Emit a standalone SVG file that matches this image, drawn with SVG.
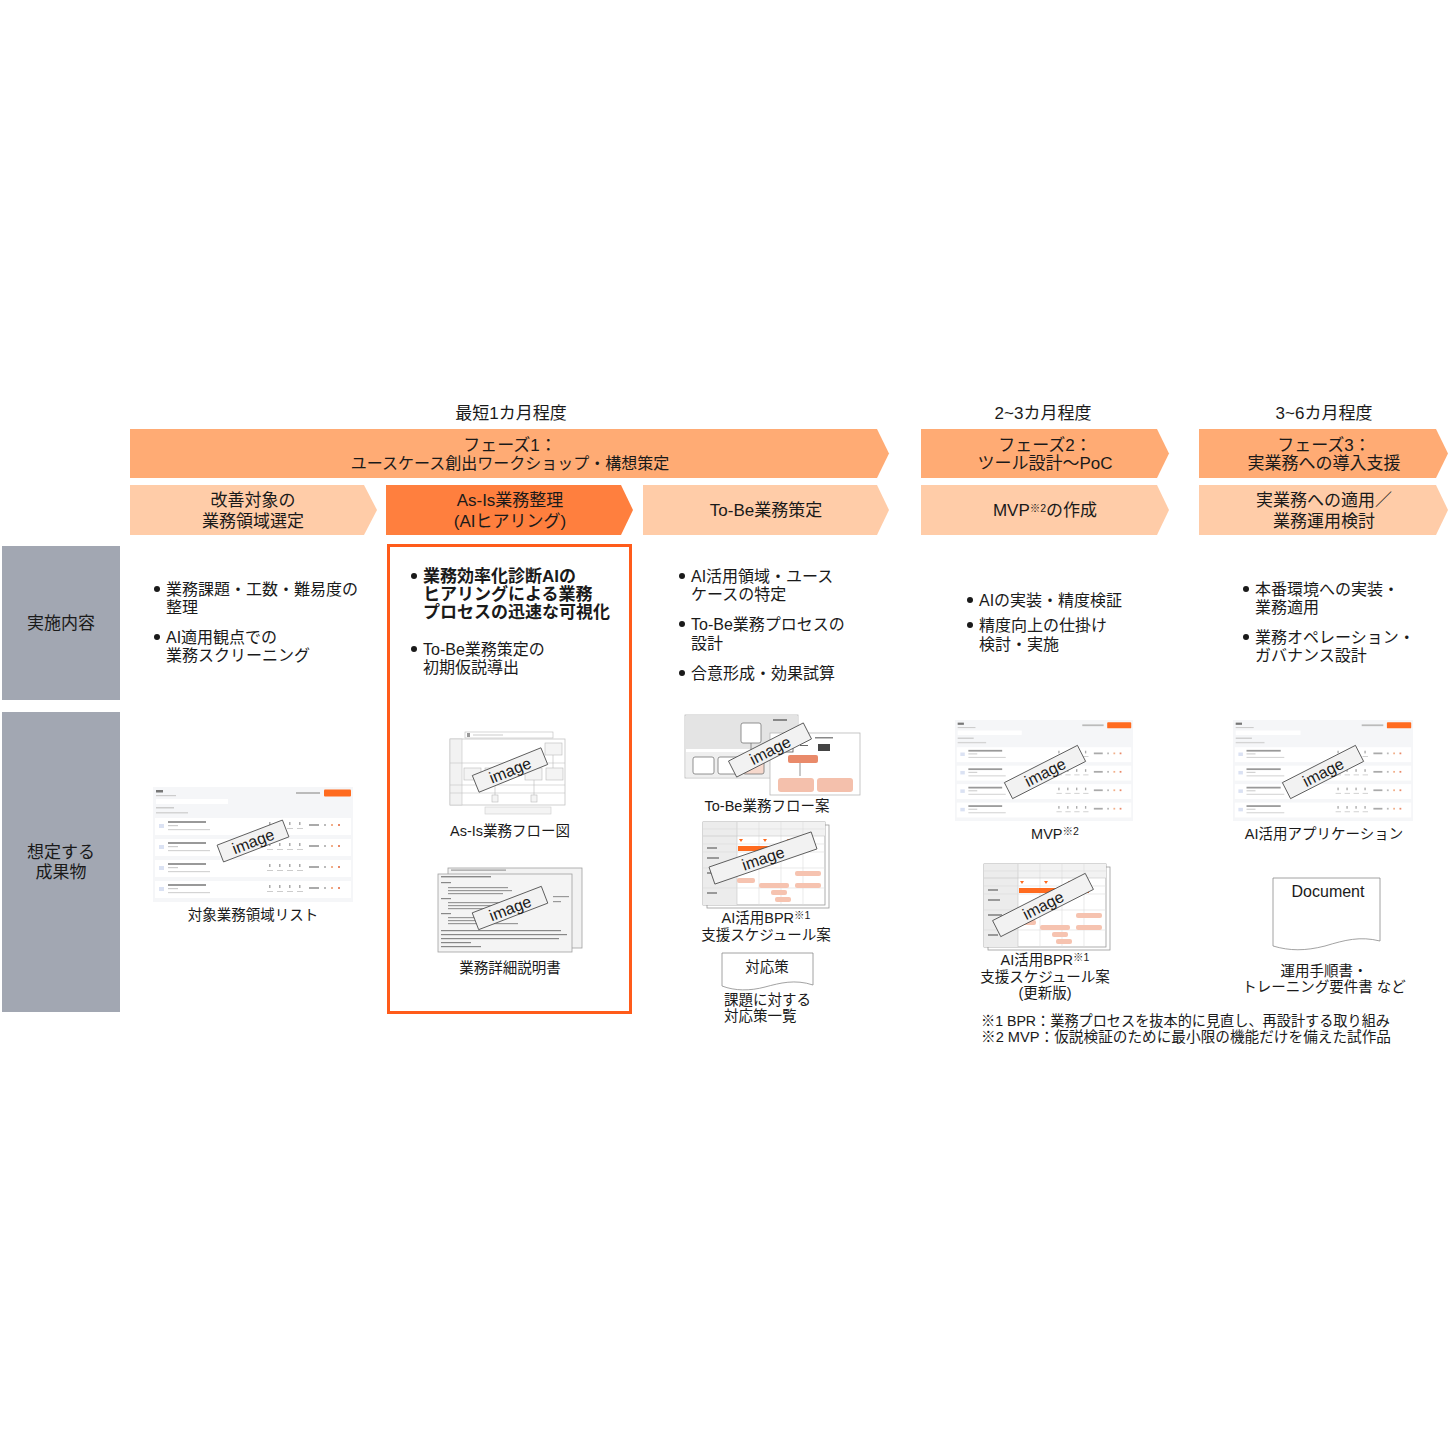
<svg xmlns="http://www.w3.org/2000/svg" xmlns:xlink="http://www.w3.org/1999/xlink" width="1448" height="1448" viewBox="0 0 1448 1448">
<style>
text{font-family:"Liberation Sans","Noto Sans CJK JP",sans-serif;font-size:16px;fill:#1a1a1a}
.c{text-anchor:middle}
.h{font-size:17px}
.b{font-weight:bold;font-size:17px}
.cap{font-size:14.5px}
.sm{font-size:10.5px}
.phase{fill:#FFAB74}
.sub{fill:#FFCCA8}
.act{fill:#FF7F3E}
.lab{fill:#A2A7B2}
.tag rect{fill:#f2f2f2;stroke:#4a4a4a;stroke-width:0.8}
.tag text{font-size:16px;text-anchor:middle}
.pg{fill:#fff;stroke:#9a9a9a;stroke-width:0.8}
.dot{fill:#1a1a1a}
</style>
<defs>
<symbol id="appshot" viewBox="0 0 200 115" preserveAspectRatio="none">
<rect x="0" y="0" width="200" height="115" fill="#f5f6f8"/>
<rect x="3" y="3" width="7" height="2.5" fill="#777"/>
<rect x="3" y="8" width="20" height="1.2" fill="#ccc"/>
<rect x="143" y="5" width="24" height="2" fill="#bbb"/>
<rect x="171" y="2.5" width="27" height="7" rx="1" fill="#FF6B1F"/>
<rect x="3" y="12" width="72" height="5" fill="#fff"/>
<rect x="3" y="20" width="18" height="1.5" fill="#ccc"/>
<rect x="3" y="25" width="32" height="1.5" fill="#d4d4d4"/>
<g id="row">
<rect x="2" y="31" width="196" height="17" fill="#fff"/>
<rect x="6" y="37" width="5" height="4" fill="#dbe2f3"/>
<rect x="15" y="34" width="38" height="2" fill="#999"/>
<rect x="15" y="38" width="10" height="1.2" fill="#ccc"/>
<rect x="15" y="42" width="42" height="1.2" fill="#d4d4d4"/>
<rect x="116" y="35" width="1.5" height="3" fill="#aaa"/><rect x="126" y="35" width="1.5" height="3" fill="#aaa"/><rect x="136" y="35" width="1.5" height="3" fill="#aaa"/><rect x="146" y="35" width="1.5" height="3" fill="#aaa"/>
<rect x="114" y="41" width="6" height="1" fill="#ccc"/><rect x="124" y="41" width="6" height="1" fill="#ccc"/><rect x="134" y="41" width="6" height="1" fill="#ccc"/><rect x="144" y="41" width="6" height="1" fill="#ccc"/>
<rect x="156" y="37" width="10" height="2" fill="#aaa"/><rect x="171" y="37" width="2" height="2" fill="#bbb"/><rect x="178" y="37" width="2" height="2" fill="#f2b08a"/><rect x="185" y="37" width="2" height="2" fill="#e98a6a"/>
</g>
<use href="#row" y="21"/>
<use href="#row" y="42"/>
<use href="#row" y="63"/>
</symbol>
<g id="sched">
<rect x="4" y="3" width="122" height="83" class="pg"/>
<rect x="0" y="0" width="122" height="83" class="pg"/>
<rect x="0" y="0" width="34" height="83" fill="#ececec"/>
<rect x="34" y="0" width="88" height="14" fill="#f2f2f2"/>
<line x1="34" y1="0" x2="34" y2="83" stroke="#c8c8c8" stroke-width="0.6"/>
<line x1="56" y1="0" x2="56" y2="83" stroke="#dcdcdc" stroke-width="0.6"/>
<line x1="78" y1="0" x2="78" y2="83" stroke="#dcdcdc" stroke-width="0.6"/>
<line x1="100" y1="0" x2="100" y2="83" stroke="#dcdcdc" stroke-width="0.6"/>
<line x1="0" y1="7" x2="122" y2="7" stroke="#dcdcdc" stroke-width="0.6"/>
<line x1="0" y1="14" x2="122" y2="14" stroke="#c8c8c8" stroke-width="0.6"/>
<line x1="0" y1="22" x2="122" y2="22" stroke="#dcdcdc" stroke-width="0.6"/>
<line x1="0" y1="30" x2="122" y2="30" stroke="#dcdcdc" stroke-width="0.6"/>
<line x1="0" y1="46" x2="122" y2="46" stroke="#dcdcdc" stroke-width="0.6"/>
<line x1="0" y1="66" x2="122" y2="66" stroke="#dcdcdc" stroke-width="0.6"/>
<rect x="35" y="24" width="70" height="5" fill="#FF6B1F"/>
<path d="M36 17 l2 3 l2 -3 z M60 17 l2 3 l2 -3 z M84 17 l2 3 l2 -3 z" fill="#FF6B1F"/>
<rect x="92" y="49" width="26" height="5" rx="2" fill="#F6C3B0"/>
<rect x="34" y="56" width="18" height="5" rx="2" fill="#F6C3B0"/>
<rect x="56" y="61" width="30" height="5" rx="2" fill="#F6C3B0"/>
<rect x="92" y="61" width="26" height="5" rx="2" fill="#F6C3B0"/>
<rect x="68" y="68" width="16" height="5" rx="2" fill="#F6C3B0"/>
<rect x="72" y="75" width="16" height="5" rx="2" fill="#F6C3B0"/>
<rect x="4" y="25" width="10" height="2" fill="#999"/>
<rect x="4" y="35" width="12" height="2" fill="#999"/>
<rect x="4" y="50" width="14" height="2" fill="#999"/>
<rect x="4" y="70" width="10" height="2" fill="#999"/>
</g>
</defs>

<g id="timeline-labels">
<text class="c h" x="511" y="419">最短1カ月程度</text>
<text class="c h" x="1043" y="419">2~3カ月程度</text>
<text class="c h" x="1324" y="419">3~6カ月程度</text>
</g>

<g id="phase1">
<path class="phase" d="M130 429 H877 L889 453.5 L877 478 H130 Z"/>
<text class="c h" x="510" y="451">フェーズ1：</text>
<text class="c" x="510" y="469">ユースケース創出ワークショップ・構想策定</text>
</g>
<g id="phase2">
<path class="phase" d="M921 429 H1157 L1169 453.5 L1157 478 H921 Z"/>
<text class="c h" x="1045" y="451">フェーズ2：</text>
<text class="c h" x="1045" y="469">ツール設計～PoC</text>
</g>
<g id="phase3">
<path class="phase" d="M1199 429 H1436 L1448 453.5 L1436 478 H1199 Z"/>
<text class="c h" x="1324" y="451">フェーズ3：</text>
<text class="c h" x="1324" y="469">実業務への導入支援</text>
</g>

<g id="step-select">
<path class="sub" d="M130 485 H364 L377 510 L364 535 H130 Z"/>
<text class="c h" x="253" y="506">改善対象の</text>
<text class="c h" x="253" y="527">業務領域選定</text>
</g>
<g id="step-asis">
<path class="act" d="M386 485 H621 L633 510 L621 535 H386 Z"/>
<text class="c h" x="510" y="506">As-Is業務整理</text>
<text class="c h" x="510" y="527">(AIヒアリング)</text>
</g>
<g id="step-tobe">
<path class="sub" d="M643 485 H877 L889 510 L877 535 H643 Z"/>
<text class="c h" x="766" y="516">To-Be業務策定</text>
</g>
<g id="step-mvp">
<path class="sub" d="M921 485 H1157 L1169 510 L1157 535 H921 Z"/>
<text class="c h" x="1045" y="516">MVP<tspan class="sm" dy="-4">※2</tspan><tspan dy="4">の作成</tspan></text>
</g>
<g id="step-apply">
<path class="sub" d="M1199 485 H1436 L1448 510 L1436 535 H1199 Z"/>
<text class="c h" x="1324" y="506">実業務への適用／</text>
<text class="c h" x="1324" y="527">業務運用検討</text>
</g>

<g id="row-labels">
<rect class="lab" x="2" y="546" width="118" height="154"/>
<text class="c h" x="61" y="629">実施内容</text>
<rect class="lab" x="2" y="712" width="118" height="300"/>
<text class="c h" x="61" y="858">想定する</text>
<text class="c h" x="61" y="878">成果物</text>
</g>

<g id="highlight">
<rect x="388.5" y="545.5" width="242" height="467" fill="none" stroke="#FF5B1A" stroke-width="3"/>
</g>

<g id="tasks-1">
<circle class="dot" cx="157" cy="589" r="3"/>
<text x="166" y="595">業務課題・工数・難易度の</text>
<text x="166" y="613">整理</text>
<circle class="dot" cx="157" cy="637" r="3"/>
<text x="166" y="643">AI適用観点での</text>
<text x="166" y="661">業務スクリーニング</text>
</g>
<g id="tasks-2">
<circle class="dot" cx="414" cy="576" r="3"/>
<text class="b" x="423" y="582">業務効率化診断AIの</text>
<text class="b" x="423" y="600">ヒアリングによる業務</text>
<text class="b" x="423" y="618">プロセスの迅速な可視化</text>
<circle class="dot" cx="414" cy="649" r="3"/>
<text x="423" y="655">To-Be業務策定の</text>
<text x="423" y="673">初期仮説導出</text>
</g>
<g id="tasks-3">
<circle class="dot" cx="682" cy="576" r="3"/>
<text x="691" y="582">AI活用領域・ユース</text>
<text x="691" y="600">ケースの特定</text>
<circle class="dot" cx="682" cy="624" r="3"/>
<text x="691" y="630">To-Be業務プロセスの</text>
<text x="691" y="649">設計</text>
<circle class="dot" cx="682" cy="673" r="3"/>
<text x="691" y="679">合意形成・効果試算</text>
</g>
<g id="tasks-4">
<circle class="dot" cx="970" cy="600" r="3"/>
<text x="979" y="606">AIの実装・精度検証</text>
<circle class="dot" cx="970" cy="625" r="3"/>
<text x="979" y="631">精度向上の仕掛け</text>
<text x="979" y="650">検討・実施</text>
</g>
<g id="tasks-5">
<circle class="dot" cx="1246" cy="589" r="3"/>
<text x="1255" y="595">本番環境への実装・</text>
<text x="1255" y="613">業務適用</text>
<circle class="dot" cx="1246" cy="637" r="3"/>
<text x="1255" y="643">業務オペレーション・</text>
<text x="1255" y="661">ガバナンス設計</text>
</g>

<g id="out-target-list">
<use href="#appshot" x="153" y="787" width="200" height="115"/>
<g class="tag" transform="translate(253 841) rotate(-21)"><rect x="-35" y="-9" width="70" height="18"/><text x="0" y="6">image</text></g>
<text class="c cap" x="253" y="920">対象業務領域リスト</text>
</g>

<g id="out-asis-flow">
<rect x="465" y="732" width="88" height="6" fill="#fff" stroke="#bbb" stroke-width="0.6"/>
<rect x="467" y="733" width="3" height="4" fill="#999"/>
<rect x="473" y="734.5" width="30" height="1" fill="#ccc"/>
<rect x="450" y="739" width="115" height="66" fill="#fff" stroke="#c4c4c4" stroke-width="0.8"/>
<rect x="450" y="739" width="12" height="66" fill="#f2f2f2" stroke="#c4c4c4" stroke-width="0.6"/>
<line x1="450" y1="763" x2="565" y2="763" stroke="#c4c4c4" stroke-width="0.6"/>
<line x1="450" y1="785" x2="565" y2="785" stroke="#c4c4c4" stroke-width="0.6"/>
<line x1="450" y1="793" x2="565" y2="793" stroke="#c4c4c4" stroke-width="0.6"/>
<rect x="545" y="743" width="17" height="12" fill="#f4f4f4" stroke="#bbb" stroke-width="0.6"/>
<rect x="464" y="768" width="17" height="12" fill="#f4f4f4" stroke="#bbb" stroke-width="0.6"/>
<rect x="485" y="768" width="17" height="12" fill="#f4f4f4" stroke="#bbb" stroke-width="0.6"/>
<rect x="525" y="768" width="17" height="12" fill="#f4f4f4" stroke="#bbb" stroke-width="0.6"/>
<rect x="546" y="768" width="17" height="12" fill="#f4f4f4" stroke="#bbb" stroke-width="0.6"/>
<rect x="492" y="795" width="6" height="7" fill="#f4f4f4" stroke="#bbb" stroke-width="0.6"/>
<rect x="531" y="795" width="6" height="7" fill="#f4f4f4" stroke="#bbb" stroke-width="0.6"/>
<line x1="553" y1="755" x2="553" y2="768" stroke="#bbb" stroke-width="0.6"/>
<line x1="495" y1="780" x2="495" y2="795" stroke="#bbb" stroke-width="0.6"/>
<line x1="534" y1="780" x2="534" y2="795" stroke="#bbb" stroke-width="0.6"/>
<rect x="485" y="807" width="66" height="7" fill="#f4f4f4" stroke="#ccc" stroke-width="0.6"/>
<g class="tag" transform="translate(510 770) rotate(-22)"><rect x="-37" y="-9" width="74" height="18"/><text x="0" y="6">image</text></g>
<text class="c cap" x="510" y="836">As-Is業務フロー図</text>
</g>

<g id="out-detail-doc">
<rect x="448" y="868" width="134" height="80" fill="#f2f2f2" stroke="#a0a0a0" stroke-width="0.8"/>
<rect x="438" y="874" width="134" height="78" fill="#f4f4f4" stroke="#a0a0a0" stroke-width="0.8"/>
<rect x="451" y="869.5" width="55" height="1.2" fill="#999"/>
<rect x="441" y="876" width="50" height="1.4" fill="#888"/>
<rect x="441" y="882" width="10" height="1.2" fill="#888"/>
<rect x="448" y="887" width="60" height="1.2" fill="#999"/>
<rect x="448" y="890" width="64" height="1.2" fill="#999"/>
<rect x="448" y="893" width="55" height="1.2" fill="#999"/>
<rect x="441" y="898" width="10" height="1.2" fill="#888"/>
<rect x="448" y="902" width="52" height="1.2" fill="#999"/>
<rect x="448" y="905" width="56" height="1.2" fill="#999"/>
<rect x="448" y="908" width="48" height="1.2" fill="#999"/>
<rect x="441" y="913" width="10" height="1.2" fill="#888"/>
<rect x="448" y="917" width="40" height="1.2" fill="#999"/>
<rect x="448" y="920" width="36" height="1.2" fill="#999"/>
<rect x="448" y="923" width="70" height="1.2" fill="#999"/>
<rect x="441" y="930" width="120" height="1.2" fill="#888"/>
<rect x="441" y="934" width="126" height="1.2" fill="#888"/>
<rect x="441" y="938" width="118" height="1.2" fill="#888"/>
<rect x="441" y="942" width="30" height="1.2" fill="#888"/>
<rect x="441" y="946" width="40" height="1.2" fill="#888"/>
<rect x="553" y="896" width="16" height="1.2" fill="#999"/>
<rect x="553" y="901" width="8" height="1.2" fill="#999"/>
<g class="tag" transform="translate(510 908) rotate(-21)"><rect x="-37" y="-9" width="74" height="18"/><text x="0" y="6">image</text></g>
<text class="c cap" x="510" y="973">業務詳細説明書</text>
</g>

<g id="out-tobe-flow">
<rect x="685" y="715" width="113" height="63" fill="#fff" stroke="#b8b8b8" stroke-width="0.8"/>
<rect x="686" y="716" width="111" height="33" fill="#e4e4e4"/>
<rect x="686" y="752" width="111" height="25" fill="#efefef"/>
<rect x="773" y="719" width="14" height="2" fill="#888"/>
<rect x="741" y="723" width="20" height="20" rx="2" fill="#fff" stroke="#777" stroke-width="0.8"/>
<rect x="693" y="757" width="21" height="17" rx="2" fill="#fff" stroke="#777" stroke-width="0.8"/>
<rect x="718" y="757" width="21" height="17" rx="2" fill="#fff" stroke="#777" stroke-width="0.8"/>
<rect x="743" y="757" width="21" height="17" rx="2" fill="#f6d8cc" stroke="#777" stroke-width="0.8"/>
<line x1="751" y1="743" x2="751" y2="757" stroke="#777" stroke-width="0.8"/>
<rect x="770" y="733" width="90" height="62" fill="#fff" stroke="#b8b8b8" stroke-width="0.8"/>
<rect x="781" y="740" width="12" height="12" fill="#fff" stroke="#555" stroke-width="0.8"/>
<rect x="818" y="744" width="12" height="7" fill="#444"/>
<rect x="815" y="737" width="18" height="1.5" fill="#888"/>
<rect x="800" y="745" width="8" height="1" fill="#666"/>
<rect x="788" y="755" width="30" height="8" rx="2" fill="#E98A6A"/>
<line x1="800" y1="763" x2="800" y2="776" stroke="#777" stroke-width="0.8"/>
<rect x="778" y="778" width="36" height="14" rx="3" fill="#F4C0AC"/>
<rect x="817" y="778" width="36" height="14" rx="3" fill="#F4C0AC"/>
<g class="tag" transform="translate(770 750) rotate(-27)"><rect x="-42" y="-9" width="84" height="18"/><text x="0" y="6">image</text></g>
<text class="c cap" x="767" y="811">To-Be業務フロー案</text>
</g>

<g id="out-schedule-1">
<use href="#sched" transform="translate(703 822)"/>
<g class="tag" transform="translate(763 858) rotate(-19)"><rect x="-54" y="-9" width="108" height="18"/><text x="0" y="6">image</text></g>
<text class="c cap" x="766" y="923">AI活用BPR<tspan class="sm" dy="-4">※1</tspan></text>
<text class="c cap" x="766" y="940">支援スケジュール案</text>
</g>

<g id="out-countermeasure">
<path d="M722 953 H813 V985 C795 979 780 983 765 987 C750 991 735 991 722 986 Z" fill="#fff" stroke="#8a8a8a" stroke-width="0.8"/>
<text class="c cap" x="767" y="972">対応策</text>
<text class="cap" x="724" y="1005">課題に対する</text>
<text class="cap" x="724" y="1021">対応策一覧</text>
</g>

<g id="out-mvp">
<use href="#appshot" x="955" y="720" width="178" height="101"/>
<g class="tag" transform="translate(1045 772) rotate(-27)"><rect x="-41" y="-9" width="82" height="18"/><text x="0" y="6">image</text></g>
<text class="c cap" x="1055" y="839">MVP<tspan class="sm" dy="-4">※2</tspan></text>
</g>

<g id="out-schedule-2">
<use href="#sched" transform="translate(984 864)"/>
<g class="tag" transform="translate(1043 905) rotate(-27)"><rect x="-52" y="-9" width="104" height="18"/><text x="0" y="6">image</text></g>
<text class="c cap" x="1045" y="965">AI活用BPR<tspan class="sm" dy="-4">※1</tspan></text>
<text class="c cap" x="1045" y="982">支援スケジュール案</text>
<text class="c cap" x="1045" y="998">(更新版)</text>
</g>

<g id="out-app">
<use href="#appshot" x="1233" y="720" width="180" height="101"/>
<g class="tag" transform="translate(1323 772) rotate(-27)"><rect x="-41" y="-9" width="82" height="18"/><text x="0" y="6">image</text></g>
<text class="c cap" x="1324" y="839">AI活用アプリケーション</text>
</g>

<g id="out-manual">
<path d="M1273 878 H1380 V941 C1360 936 1345 940 1325 946 C1305 951 1290 951 1273 946 Z" fill="#fff" stroke="#8a8a8a" stroke-width="0.8"/>
<text class="c" x="1328" y="897">Document</text>
<text class="c cap" x="1324" y="976">運用手順書・</text>
<text class="c cap" x="1324" y="992">トレーニング要件書 など</text>
</g>

<g id="footnotes">
<text class="cap" x="981" y="1026" textLength="409" lengthAdjust="spacingAndGlyphs">※1 BPR：業務プロセスを抜本的に見直し、再設計する取り組み</text>
<text class="cap" x="981" y="1042" textLength="410" lengthAdjust="spacingAndGlyphs">※2 MVP：仮説検証のために最小限の機能だけを備えた試作品</text>
</g>
</svg>
